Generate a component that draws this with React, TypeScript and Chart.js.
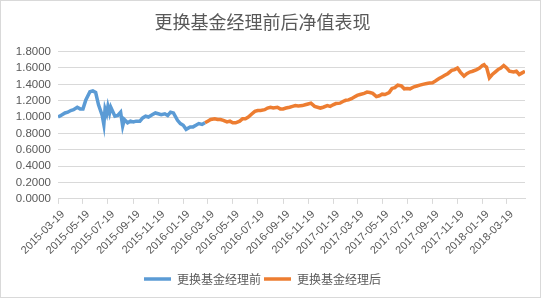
import React, { useEffect, useRef } from "react";
import { Chart, registerables } from "chart.js";

Chart.register(...registerables);

const titleText = "更换基金经理前后净值表现";
const beforeLabel = "更换基金经理前";
const afterLabel = "更换基金经理后";

const beforeDates = [
  "2015-03-19", "2015-03-26",
  "2015-04-05", "2015-04-12", "2015-04-19", "2015-04-26",
  "2015-05-05", "2015-05-12", "2015-05-19", "2015-05-26",
  "2015-06-05", "2015-06-12", "2015-06-19", "2015-06-26",
  "2015-07-05", "2015-07-09", "2015-07-12", "2015-07-16", "2015-07-19", "2015-07-23", "2015-07-26",
  "2015-08-05", "2015-08-12", "2015-08-19", "2015-08-24", "2015-08-28",
  "2015-09-05", "2015-09-12", "2015-09-19", "2015-09-26",
  "2015-10-05", "2015-10-12", "2015-10-19", "2015-10-26",
  "2015-11-05", "2015-11-12", "2015-11-19", "2015-11-26",
  "2015-12-05", "2015-12-12", "2015-12-19", "2015-12-26",
  "2016-01-05", "2016-01-12", "2016-01-19", "2016-01-26",
  "2016-02-05", "2016-02-12", "2016-02-19", "2016-02-26",
  "2016-03-05", "2016-03-12",
];
const beforeValues = [
  1.0, 1.02,
  1.05, 1.06, 1.08, 1.09,
  1.12, 1.1, 1.1, 1.21,
  1.31, 1.32, 1.3, 1.15,
  1.02, 0.91, 1.1, 1.04, 1.13, 1.05, 1.12,
  1.01, 1.02, 1.06, 0.89, 0.97,
  0.93, 0.95, 0.94, 0.95,
  0.95, 0.99, 1.01, 1.0,
  1.03, 1.05, 1.04, 1.03,
  1.04, 1.02, 1.06, 1.05,
  0.96, 0.92, 0.9, 0.85,
  0.88, 0.88, 0.9, 0.92,
  0.91, 0.93,
];

const afterDates = [
  "2016-03-12", "2016-03-19", "2016-03-26",
  "2016-04-05", "2016-04-12", "2016-04-19", "2016-04-26",
  "2016-05-05", "2016-05-12", "2016-05-19", "2016-05-26",
  "2016-06-05", "2016-06-12", "2016-06-19", "2016-06-26",
  "2016-07-05", "2016-07-12", "2016-07-19", "2016-07-26",
  "2016-08-05", "2016-08-12", "2016-08-19", "2016-08-26",
  "2016-09-05", "2016-09-12", "2016-09-19", "2016-09-26",
  "2016-10-05", "2016-10-12", "2016-10-19", "2016-10-26",
  "2016-11-05", "2016-11-12", "2016-11-19", "2016-11-26",
  "2016-12-05", "2016-12-12", "2016-12-19", "2016-12-26",
  "2017-01-05", "2017-01-12", "2017-01-19", "2017-01-26",
  "2017-02-05", "2017-02-12", "2017-02-19", "2017-02-26",
  "2017-03-05", "2017-03-12", "2017-03-19", "2017-03-26",
  "2017-04-05", "2017-04-12", "2017-04-19", "2017-04-26",
  "2017-05-05", "2017-05-12", "2017-05-19", "2017-05-26",
  "2017-06-05", "2017-06-12", "2017-06-19", "2017-06-26",
  "2017-07-05", "2017-07-12", "2017-07-19", "2017-07-26",
  "2017-08-05", "2017-08-12", "2017-08-19", "2017-08-26",
  "2017-09-05", "2017-09-12", "2017-09-19", "2017-09-26",
  "2017-10-05", "2017-10-12", "2017-10-19", "2017-10-26",
  "2017-11-05", "2017-11-12", "2017-11-19", "2017-11-26",
  "2017-12-05", "2017-12-12", "2017-12-19", "2017-12-26",
  "2018-01-05", "2018-01-12", "2018-01-19", "2018-01-23", "2018-01-26", "2018-01-29",
  "2018-02-05", "2018-02-12", "2018-02-19", "2018-02-26",
  "2018-03-05", "2018-03-12", "2018-03-19", "2018-03-26",
  "2018-04-05", "2018-04-12", "2018-04-19", "2018-04-26",
  "2018-05-03",
];
const afterValues = [
  0.93, 0.95, 0.97,
  0.98, 0.97, 0.97, 0.96,
  0.94, 0.95, 0.93, 0.93,
  0.95, 0.98, 0.98, 1.0,
  1.04, 1.07, 1.08, 1.08,
  1.09, 1.11, 1.12, 1.11,
  1.12, 1.1, 1.1, 1.11,
  1.12, 1.13, 1.14, 1.135,
  1.14, 1.15, 1.16, 1.17,
  1.13, 1.12, 1.11, 1.12,
  1.14, 1.13, 1.15, 1.165,
  1.17, 1.19, 1.205, 1.21,
  1.225, 1.245, 1.265, 1.275,
  1.29, 1.305, 1.3, 1.29,
  1.25, 1.26, 1.28, 1.275,
  1.3, 1.35, 1.36, 1.39,
  1.38, 1.345, 1.35, 1.345,
  1.37, 1.38, 1.39, 1.4,
  1.41, 1.415, 1.42, 1.44,
  1.47, 1.49, 1.51, 1.53,
  1.57, 1.58, 1.6, 1.55,
  1.5, 1.53, 1.55, 1.56,
  1.58, 1.6, 1.63, 1.64, 1.62, 1.61,
  1.48, 1.52, 1.55, 1.58,
  1.6, 1.63, 1.6, 1.56,
  1.55, 1.56, 1.52, 1.54,
  1.56,
];

const tickDates = [
  "2015-03-19", "2015-05-19", "2015-07-19", "2015-09-19", "2015-11-19",
  "2016-01-19", "2016-03-19", "2016-05-19", "2016-07-19", "2016-09-19", "2016-11-19",
  "2017-01-19", "2017-03-19", "2017-05-19", "2017-07-19", "2017-09-19", "2017-11-19",
  "2018-01-19", "2018-03-19",
];

const yMin = 0;
const yMax = 1.8;
const yStep = 0.2;

const DAY = 86400000;
const toDay = (s: string) =>
  Date.UTC(+s.slice(0, 4), +s.slice(5, 7) - 1, +s.slice(8, 10)) / DAY;
const fmtDay = (v: number) => new Date(Math.round(v) * DAY).toISOString().slice(0, 10);

const CJK = "'Noto Sans CJK SC', 'Noto Sans', sans-serif";
const NUM = "'Liberation Sans', 'Noto Sans CJK SC', sans-serif";
const TEXT = "#595959";
const GRID = "#d9d9d9";

const framePlugin = {
  id: "frame",
  beforeDraw(chart: any) {
    const ctx = chart.ctx;
    ctx.save();
    ctx.fillStyle = "#ffffff";
    ctx.fillRect(0, 0, chart.width, chart.height);
    ctx.restore();
  },
  afterDraw(chart: any) {
    const ctx = chart.ctx;
    ctx.save();
    ctx.strokeStyle = GRID;
    ctx.lineWidth = 1;
    ctx.strokeRect(0.5, 0.5, 540, 297);
    ctx.restore();
  },
};

export default function App() {
  const ref = useRef<HTMLCanvasElement>(null);
  useEffect(() => {
    const canvas = ref.current;
    if (!canvas) return;
    const chart = new Chart(canvas, {
      type: "line",
      data: {
        datasets: [
          {
            label: beforeLabel,
            data: beforeDates.map((d, i) => ({ x: toDay(d), y: beforeValues[i] })),
            borderColor: "#5B9BD5",
            backgroundColor: "#5B9BD5",
            borderWidth: 3.5,
            pointRadius: 0,
            pointStyle: "line",
            tension: 0,
          },
          {
            label: afterLabel,
            data: afterDates.map((d, i) => ({ x: toDay(d), y: afterValues[i] })),
            borderColor: "#ED7D31",
            backgroundColor: "#ED7D31",
            borderWidth: 3.5,
            pointRadius: 0,
            pointStyle: "line",
            tension: 0,
          },
        ],
      },
      options: {
        animation: false,
        responsive: false,
        devicePixelRatio: 1,
        layout: { padding: { left: 0, right: 17, top: 0, bottom: 4 } },
        plugins: {
          title: {
            display: true,
            text: titleText,
            color: TEXT,
            font: { size: 18, family: CJK, weight: "normal" },
            padding: { top: 11, bottom: 19 },
          },
          legend: {
            position: "bottom",
            labels: {
              usePointStyle: true,
              pointStyle: "line",
              pointStyleWidth: 27,
              color: TEXT,
              font: { size: 12, family: CJK },
              padding: 3,
            },
          },
          tooltip: { enabled: false },
        },
        scales: {
          x: {
            type: "linear",
            min: toDay(tickDates[0]),
            max: toDay(afterDates[afterDates.length - 1]),
            afterBuildTicks: (s: any) => {
              s.ticks = tickDates.map((d) => ({ value: toDay(d) }));
            },
            afterFit: (s: any) => {
              s.height = s.height + 9;
            },
            ticks: {
              autoSkip: false,
              minRotation: 45,
              maxRotation: 45,
              color: TEXT,
              font: { size: 11, family: NUM },
              padding: 4,
              labelOffset: 5,
              callback: (v: any) => fmtDay(Number(v)),
            },
            grid: {
              drawOnChartArea: false,
              drawTicks: true,
              tickLength: 5,
              color: GRID,
            },
            border: { display: true, color: GRID },
          },
          y: {
            min: yMin,
            max: yMax,
            afterFit: (s: any) => {
              s.width = 58;
            },
            ticks: {
              autoSkip: false,
              stepSize: yStep,
              color: TEXT,
              font: { size: 11.5, family: NUM },
              padding: 7,
              callback: (v: any) => Number(v).toFixed(4),
            },
            grid: { color: GRID, drawTicks: false },
            border: { display: false },
          },
        },
      },
      plugins: [framePlugin],
    } as any);
    return () => chart.destroy();
  }, []);
  return (
    <div style={{ position: "fixed", left: 0, top: 0, width: 542, height: 299 }}>
      <canvas ref={ref} width={542} height={299} style={{ width: 542, height: 299, display: "block" }} />
    </div>
  );
}
